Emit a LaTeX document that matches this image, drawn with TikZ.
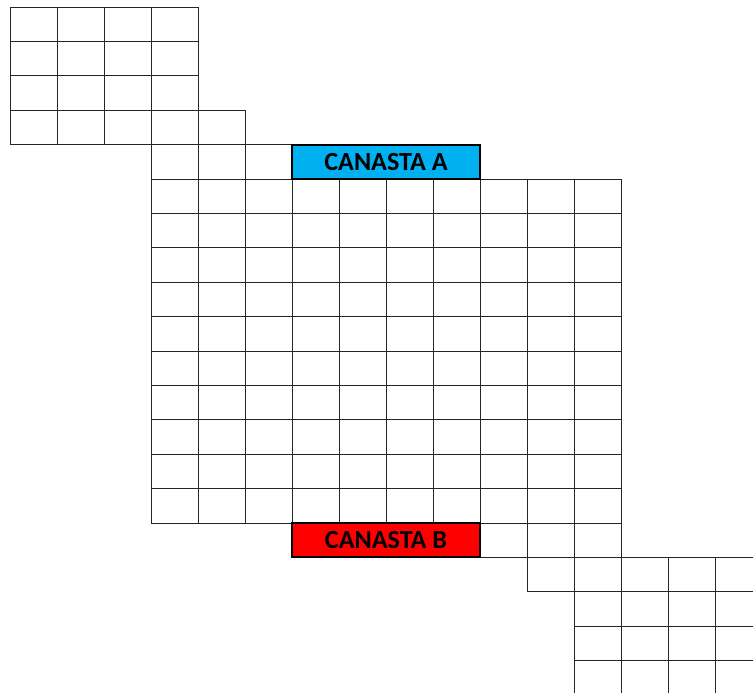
\documentclass[tikz,border=0pt]{standalone}
\usepackage{fontspec}
\setmainfont{Carlito}
\usepackage{tikz}
\usetikzlibrary{positioning}

\definecolor{azulA}{HTML}{00B0F0}
\definecolor{rojoB}{HTML}{FF0000}
\tikzset{
    celda/.style={draw=black!85, line width=0.8pt},
    canasta/.style={draw=black, line width=1.7pt, inner sep=0pt,
        minimum width=5.64cm, minimum height=1.032cm,
        font=\fontsize{22.3}{25}\selectfont\bfseries}
}

\begin{document}
\begin{tikzpicture}[x=1.41cm, y=-1.032cm]
\useasboundingbox (-0.2128,-0.2035) rectangle (15.809,19.942);
\begin{scope}
    \clip (-0.2128,-0.2035) rectangle (15.809,19.942);
    % Upper left block
    \foreach \c in {0,...,3}
        \foreach \r in {0,...,3}
            \draw[celda] (\c,\r) rectangle ++(1,1);
    \draw[celda] (4,3) rectangle ++(1,1);
    \foreach \c in {3,4,5}
        \draw[celda] (\c,4) rectangle ++(1,1);
    % Main field
    \foreach \c in {3,...,12}
        \foreach \r in {5,...,14}
            \draw[celda] (\c,\r) rectangle ++(1,1);
    % Lower right block
    \foreach \c in {10,11,12}
        \draw[celda] (\c,15) rectangle ++(1,1);
    \foreach \c in {11,...,15}
        \draw[celda] (\c,16) rectangle ++(1,1);
    \foreach \c in {12,...,15}
        \foreach \r in {17,18,19}
            \draw[celda] (\c,\r) rectangle ++(1,1);
\end{scope}

% Baskets
\node[canasta, fill=azulA](canA) at (8,4.5){CANASTA A};
\node[canasta, fill=rojoB](canB) at (8,15.5){CANASTA B};
\end{tikzpicture}
\end{document}
